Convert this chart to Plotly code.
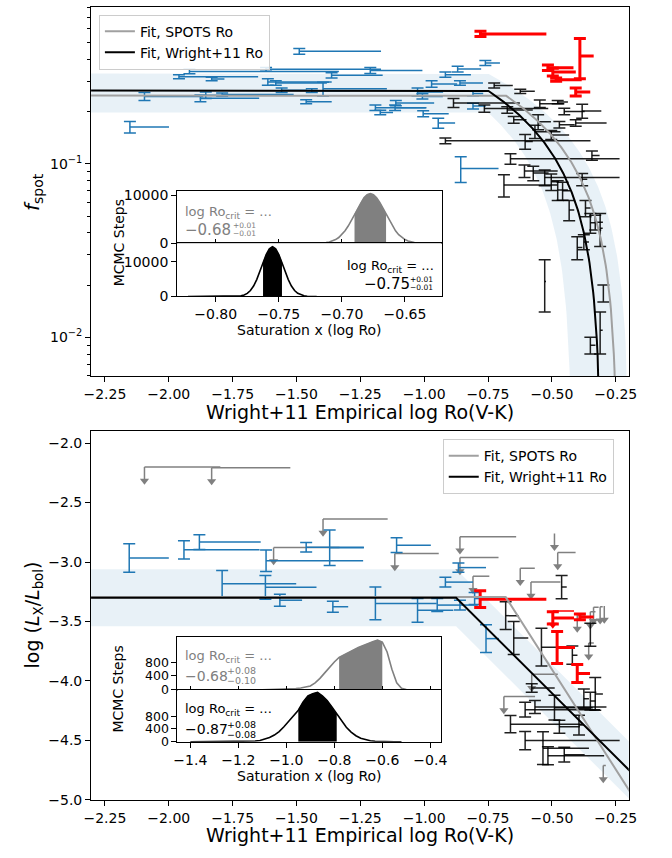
import numpy as np
import plotly.graph_objects as go

FONT = "DejaVu Sans"
W, H = 672, 858

# ====================== TOP PANEL DATA (f_spot vs Wright+11 log Ro) ======================
top_blue_x = [-2.152, -2.095, -1.960, -1.919, -1.832, -1.876, -1.855, -1.791, -1.619, -1.612,
              -1.581, -1.558, -1.489, -1.462, -1.440, -1.396, -1.3625, -1.211, -0.917, -0.869,
              -0.7605, -0.971, -0.860, -1.026, -1.007, -0.809, -1.111, -1.191, -1.172, -1.114,
              -1.004, -0.945, -0.809, -0.857]
top_blue_y = [0.163, 0.245, 0.318, 0.341, 0.309, 0.239, 0.249, 0.251, 0.351, 0.297,
              0.293, 0.266, 0.446, 0.228, 0.2645, 0.271, 0.324, 0.346, 0.327, 0.352,
              0.382, 0.289, 0.293, 0.260, 0.245, 0.255, 0.2245, 0.211, 0.1978, 0.211,
              0.1945, 0.172, 0.2155, 0.094]
top_blue_yerr = [0.0125, 0.0128, 0.0083, 0.0099, 0.007, 0.0105, 0.011, 0.0055, 0.0092, 0.0128,
                 0.009, 0.0082, 0.0175, 0.006, 0.0067, 0.025, 0.011, 0.0136, 0.0114, 0.0138,
                 0.0125, 0.0125, 0.009, 0.014, 0.0085, 0.008, 0.0078, 0.0075, 0.006, 0.0075,
                 0.0077, 0.0113, 0.008, 0.016]
top_blue_xerr = [0.153, 0.23, 0.31, 0.585, 0.05, 0.23, 0.30, 0.28, 0.45, 0.25,
                 0.20, 0.10, 0.32, 0.10, 0.15, 0.25, 0.20, 0.204, 0.10, 0.092,
                 0.057, 0.10, 0.09, 0.10, 0.08, 0.04, 0.15, 0.20, 0.05, 0.12,
                 0.10, 0.066, 0.05, 0.148]

top_red_x = [-0.7797, -0.3905, -0.5156, -0.4965, -0.4834, -0.4069]
top_red_y = [0.562, 0.419, 0.359, 0.3387, 0.306, 0.260]
top_red_yerr = [0.0195, 0.109, 0.0132, 0.0178, 0.0067, 0.014]
top_red_xerr = [0.258, 0.054, 0.10, 0.09, 0.10, 0.057]

top_black_x = [-0.7261, -0.6239, -0.8853, -0.7644, -0.6748, -0.6495, -0.5474, -0.4773, -0.3816, -0.4517,
               -0.5539, -0.5665, -0.4069, -0.4708, -0.5026, -0.917, -0.6048, -0.6622, -0.3434, -0.6074,
               -0.573, -0.5282, -0.5026, -0.6878, -0.3816, -0.4773, -0.4582, -0.4325, -0.3686, -0.4008,
               -0.3495, -0.3304, -0.3112, -0.5282, -0.2986, -0.3112, -0.3495, -0.375]
top_black_y = [0.2836, 0.262, 0.2248, 0.2086, 0.2048, 0.1797, 0.2223, 0.2274, 0.2019, 0.2005,
               0.1747, 0.1534, 0.1721, 0.1683, 0.1469, 0.1358, 0.1345, 0.107, 0.1118, 0.0911,
               0.0885, 0.0835, 0.0788, 0.0755, 0.0815, 0.0708, 0.070, 0.0543, 0.0556, 0.033,
               0.0458, 0.0461, 0.0426, 0.021, 0.018, 0.011, 0.009, 0.0355]
top_black_yerr = [0.0093, 0.0076, 0.0137, 0.0101, 0.009, 0.0079, 0.0112, 0.0049, 0.0185, 0.0087,
                  0.0171, 0.0134, 0.0075, 0.0074, 0.0087, 0.0053, 0.0131, 0.0074, 0.0068, 0.0076,
                  0.0085, 0.0086, 0.0086, 0.0111, 0.0066, 0.0092, 0.0083, 0.0073, 0.006, 0.005,
                  0.006, 0.0045, 0.0092, 0.007, 0.002, 0.003, 0.001, 0.0035]
top_black_xerr = [0.073, 0.057, 0.26, 0.25, 0.10, 0.05, 0.096, 0.04, 0.075, 0.08,
                  0.05, 0.10, 0.121, 0.06, 0.07, 0.568, 0.03, 0.427, 0.03, 0.13,
                  0.06, 0.293, 0.03, 0.209, 0.02, 0.04, 0.03, 0.02, 0.02, 0.02,
                  0.03, 0.03, 0.01, 0.005, 0.0, 0.01, 0.02, 0.02]

# fit parameters (top): f = f_sat for x < x_crit, falls linearly in log Ro to zero at x_zero
top_fit_black = dict(f_sat=0.265, x_crit=-0.751, x_zero=-0.308)
top_fit_gray = dict(f_sat=0.248, x_crit=-0.681, x_zero=-0.2435)
top_band_half = 0.067

# ====================== BOTTOM PANEL DATA (log Lx/Lbol) ======================
bot_blue_x = [-2.1547, -1.9404, -1.880, -1.791, -1.619, -1.6216, -1.565, -1.462, -1.370, -1.3575,
              -1.108, -0.866, -0.917, -1.191, -1.026, -0.949, -0.758, -0.860, -0.8026]
bot_blue_y = [-2.967, -2.898, -2.832, -3.182, -2.989, -3.213, -3.321, -2.876, -2.881, -3.376,
              -2.859, -3.047, -3.169, -3.348, -3.406, -3.362, -3.644, -3.362, -3.307]
bot_blue_yerr = [0.120, 0.076, 0.062, 0.110, 0.090, 0.100, 0.050, 0.039, 0.149, 0.047,
                 0.062, 0.039, 0.041, 0.138, 0.100, 0.055, 0.117, 0.041, 0.050]
bot_blue_xerr = [0.155, 0.296, 0.240, 0.290, 0.380, 0.200, 0.087, 0.226, 0.134, 0.060,
                 0.134, 0.108, 0.108, 0.240, 0.140, 0.090, 0.051, 0.070, 0.070]

bot_red_x = [-0.7808, -0.4965, -0.4796, -0.4008, -0.3905]
bot_red_y = [-3.3126, -3.470, -3.719, -3.937, -3.462]
bot_red_yerr = [0.070, 0.052, 0.135, 0.076, 0.024]
bot_red_xerr = [0.259, 0.083, 0.070, 0.050, 0.054]
bot_red_lim_x = [-0.4965]
bot_red_lim_y = [-3.412]
bot_red_lim_xerr = [0.083]

bot_black_x = [-0.462, -0.681, -0.6495, -0.541, -0.3495, -0.42, -0.579, -0.6048, -0.5665, -0.49,
               -0.375, -0.3495, -0.3304, -0.6622, -0.4708, -0.394, -0.6048, -0.535, -0.5156, -0.4517]
bot_black_y = [-3.211, -3.451, -3.6385, -3.716, -3.611, -3.783, -4.059, -4.241, -4.219, -4.225,
               -4.150, -4.169, -4.109, -4.363, -4.385, -4.371, -4.501, -4.565, -4.629, -4.620]
bot_black_yerr = [0.097, 0.117, 0.138, 0.159, 0.097, 0.076, 0.035, 0.062, 0.055, 0.104,
                  0.083, 0.075, 0.138, 0.073, 0.055, 0.083, 0.076, 0.138, 0.076, 0.062]
bot_black_xerr = [0.02, 0.051, 0.057, 0.12, 0.0, 0.02, 0.09, 0.293, 0.28, 0.15,
                  0.02, 0.02, 0.03, 0.28, 0.08, 0.02, 0.37, 0.18, 0.22, 0.08]

bot_lim_x = [-2.095, -1.832, -1.396, -1.5895, -1.115, -0.860, -0.860, -0.809, -0.624, -0.582,
             -0.490, -0.4773, -0.4008, -0.3495, -0.3112, -0.356, -0.579, -0.688, -0.299, -0.337, -0.295]
bot_lim_y = [-2.2015, -2.207, -2.6385, -2.879, -2.9287, -2.7877, -2.9619, -3.1194, -3.053, -3.169,
             -2.7595, -2.9204, -3.4453, -3.418, -3.3765, -3.680, -3.943, -4.131, -4.711, -3.380, -3.370]
bot_lim_xerr = [0.297, 0.308, 0.253, 0.258, 0.172, 0.220, 0.151, 0.064, 0.057, 0.115,
                0.0, 0.070, 0.032, 0.020, 0.010, 0.020, 0.102, 0.122, 0.010, 0.020, 0.0]

bot_fit_black = dict(level=-3.30, x_crit=-0.875, slope=-2.14)
bot_fit_gray = dict(level=-3.295, x_crit=-0.681, slope=-3.36)
bot_band_half = 0.24

# ====================== MCMC HISTOGRAMS ======================
# top inset, SPOTS Ro (gray)
hA_x = [-0.7225, -0.72, -0.7175, -0.715, -0.7125, -0.71, -0.7075, -0.705, -0.7025, -0.70, -0.6975,
        -0.695, -0.6925, -0.69, -0.6875, -0.685, -0.6825, -0.68, -0.6775, -0.675, -0.6725, -0.67,
        -0.6675, -0.665, -0.6625, -0.66, -0.6575, -0.655, -0.6525, -0.65, -0.6475, -0.645, -0.6425,
        -0.64, -0.6375, -0.635]
hA_n = [0, 20, 40, 79, 148, 266, 457, 753, 1188, 1793, 2594, 3592, 4761, 6043, 7349, 8555, 9535,
        10176, 10400, 10176, 9535, 8555, 7349, 6043, 4761, 3592, 2594, 1793, 1188, 753, 457, 266, 148,
        79, 40, 0]
hA_ci = (-0.69, -0.665)
# top inset, Wright+11 Ro (black)
hB_x = [-0.822, -0.79, -0.7875, -0.785, -0.7825, -0.78, -0.7775, -0.775, -0.7725, -0.77, -0.7675,
        -0.765, -0.7625, -0.76, -0.7575, -0.755, -0.7525, -0.75, -0.7475, -0.745, -0.7425, -0.74,
        -0.7375, -0.735, -0.7325, -0.73, -0.7275, -0.725, -0.7225, -0.72]
hB_n = [0, 0, 10, 28, 76, 189, 431, 898, 1718, 3013, 4851, 7159, 9691, 12028, 13695, 14300, 13695,
        12028, 9691, 7159, 4851, 3013, 1718, 898, 431, 189, 76, 28, 10, 0]
hB_ci = (-0.7625, -0.7475)
# bottom inset, SPOTS Ro (gray)
hC_x = [-1.10, -1.08, -1.06, -1.04, -1.02, -1.00, -0.98, -0.96, -0.94, -0.92, -0.90, -0.88, -0.86,
        -0.84, -0.82, -0.80, -0.78, -0.76, -0.74, -0.72, -0.70, -0.68, -0.66, -0.64, -0.62, -0.60,
        -0.58, -0.56, -0.54, -0.52, -0.50, -0.48]
hC_n = [0, 2, 4, 7, 10, 15, 22, 32, 50, 75, 110, 200, 330, 490, 660, 810, 940, 1020, 1090, 1160,
        1230, 1290, 1350, 1400, 1445, 1390, 1100, 600, 200, 40, 3, 0]
hC_ci = (-0.78, -0.60)
# bottom inset, Wright+11 Ro (black)
hD_x = [-1.40, -1.25, -1.21, -1.19, -1.17, -1.15, -1.13, -1.11, -1.09, -1.07, -1.05, -1.03, -1.01,
        -0.99, -0.97, -0.95, -0.93, -0.91, -0.89, -0.87, -0.85, -0.83, -0.81, -0.79, -0.77, -0.75,
        -0.73, -0.71, -0.69, -0.67, -0.65, -0.63, -0.61, -0.59, -0.57, -0.55, -0.52]
hD_n = [0, 0, 1, 2, 5, 10, 20, 40, 75, 130, 210, 320, 470, 650, 800, 990, 1250, 1440, 1510, 1550,
        1440, 1298, 1092, 866, 647, 456, 302, 189, 111, 62, 32, 16, 7, 3, 1, 0, 0]
hD_ci = (-0.95, -0.79)

# ====================== STYLE ======================
BLUE = "#1f77b4"
RED = "#ff0000"
BLACK = "rgba(0,0,0,0.88)"
LIMGRAY = "#808080"
FITGRAY = "#a0a0a0"
BAND = "rgba(31,119,180,0.10)"
X_RANGE = [-2.304, -0.199]

fig = go.Figure()


def err_trace(x, y, yerr, xerr, color, thick, xa, ya, cap=6):
    return go.Scatter(
        x=x, y=y, mode="markers", marker=dict(size=2, color=color, opacity=0),
        error_y=dict(type="data", array=yerr, symmetric=True, color=color, thickness=thick, width=cap),
        error_x=dict(type="data", array=xerr, arrayminus=[0] * len(x), symmetric=False,
                     color=color, thickness=thick, width=0),
        xaxis=xa, yaxis=ya, showlegend=False, hoverinfo="skip")


def limit_traces(x, y, xerr, color, xa, ya, L=0.115):
    x = np.asarray(x); y = np.asarray(y)
    t1 = go.Scatter(
        x=x, y=y, mode="markers", marker=dict(size=2, color=color, opacity=0),
        error_y=dict(type="data", array=[0] * len(x), arrayminus=[L] * len(x), symmetric=False,
                     color=color, thickness=1.5, width=0),
        error_x=dict(type="data", array=xerr, arrayminus=[0] * len(x), symmetric=False,
                     color=color, thickness=1.5, width=0),
        xaxis=xa, yaxis=ya, showlegend=False, hoverinfo="skip")
    t2 = go.Scatter(x=x, y=y - L, mode="markers",
                    marker=dict(symbol="triangle-down", size=8, color=color, line=dict(width=0)),
                    xaxis=xa, yaxis=ya, showlegend=False, hoverinfo="skip")
    return [t1, t2]


# ---------------- TOP PANEL ----------------
xs = np.linspace(X_RANGE[0] - 0.1, X_RANGE[1] + 0.1, 800)


def top_model(p, x):
    return np.where(x < p["x_crit"], p["f_sat"],
                    p["f_sat"] * (1 - (x - p["x_crit"]) / (p["x_zero"] - p["x_crit"])))


fb = top_model(top_fit_black, xs)
up = np.clip(fb + top_band_half, 1e-4, None)
lo = np.clip(fb - top_band_half, 1e-4, None)
fig.add_trace(go.Scatter(x=np.concatenate([xs, xs[::-1]]), y=np.concatenate([up, lo[::-1]]),
                         fill="toself", fillcolor=BAND, line=dict(width=0), mode="lines",
                         xaxis="x", yaxis="y", showlegend=False, hoverinfo="skip"))

fig.add_trace(err_trace(top_blue_x, top_blue_y, top_blue_yerr, top_blue_xerr, BLUE, 1.5, "x", "y"))
fig.add_trace(err_trace(top_black_x, top_black_y, top_black_yerr, top_black_xerr, BLACK, 1.5, "x", "y"))
fig.add_trace(err_trace(top_red_x, top_red_y, top_red_yerr, top_red_xerr, RED, 3, "x", "y"))

for p, col, name in [(top_fit_gray, FITGRAY, "Fit, SPOTS Ro"), (top_fit_black, "black", "Fit, Wright+11 Ro")]:
    f = top_model(p, xs)
    m = f > 1e-3
    fig.add_trace(go.Scatter(x=xs[m], y=f[m], mode="lines", line=dict(color=col, width=2),
                             name=name, xaxis="x", yaxis="y", legend="legend", hoverinfo="skip"))

# ---------------- BOTTOM PANEL ----------------
xb = np.array([X_RANGE[0] - 0.1, bot_fit_black["x_crit"], X_RANGE[1] + 0.1])


def bot_model(p, x):
    return np.where(x < p["x_crit"], p["level"], p["level"] + p["slope"] * (x - p["x_crit"]))


lb = bot_model(bot_fit_black, xb)
fig.add_trace(go.Scatter(x=np.concatenate([xb, xb[::-1]]),
                         y=np.concatenate([lb + bot_band_half, (lb - bot_band_half)[::-1]]),
                         fill="toself", fillcolor=BAND, line=dict(width=0), mode="lines",
                         xaxis="x2", yaxis="y2", showlegend=False, hoverinfo="skip"))

for t in limit_traces(bot_lim_x, bot_lim_y, bot_lim_xerr, LIMGRAY, "x2", "y2"):
    fig.add_trace(t)
fig.add_trace(err_trace(bot_blue_x, bot_blue_y, bot_blue_yerr, bot_blue_xerr, BLUE, 1.5, "x2", "y2"))
fig.add_trace(err_trace(bot_black_x, bot_black_y, bot_black_yerr, bot_black_xerr, BLACK, 1.5, "x2", "y2"))
for t in limit_traces(bot_red_lim_x, bot_red_lim_y, bot_red_lim_xerr, RED, "x2", "y2"):
    fig.add_trace(t)
fig.add_trace(err_trace(bot_red_x, bot_red_y, bot_red_yerr, bot_red_xerr, RED, 3, "x2", "y2"))

for p, col, name in [(bot_fit_gray, FITGRAY, "Fit, SPOTS Ro"), (bot_fit_black, "black", "Fit, Wright+11 Ro")]:
    xx = np.array([X_RANGE[0] - 0.1, p["x_crit"], X_RANGE[1] + 0.1])
    fig.add_trace(go.Scatter(x=xx, y=bot_model(p, xx), mode="lines", line=dict(color=col, width=2),
                             name=name, xaxis="x2", yaxis="y2", legend="legend2", hoverinfo="skip"))


# ---------------- INSET HISTOGRAMS ----------------
def hist_traces(hx, hn, ci, color, xa, ya):
    hx = np.asarray(hx); hn = np.asarray(hn)
    m = (hx >= ci[0] - 1e-9) & (hx <= ci[1] + 1e-9)
    return [
        go.Scatter(x=hx[m], y=hn[m], mode="lines", fill="tozeroy", fillcolor=color,
                   line=dict(color=color, width=0.5), xaxis=xa, yaxis=ya, showlegend=False, hoverinfo="skip"),
        go.Scatter(x=hx, y=hn, mode="lines", line=dict(color=color, width=1.6),
                   xaxis=xa, yaxis=ya, showlegend=False, hoverinfo="skip"),
    ]


for t in hist_traces(hA_x, hA_n, hA_ci, "#808080", "x3", "y3"): fig.add_trace(t)
for t in hist_traces(hB_x, hB_n, hB_ci, "#000000", "x4", "y4"): fig.add_trace(t)
for t in hist_traces(hC_x, hC_n, hC_ci, "#808080", "x5", "y5"): fig.add_trace(t)
for t in hist_traces(hD_x, hD_n, hD_ci, "#000000", "x6", "y6"): fig.add_trace(t)


# ---------------- LAYOUT ----------------
def PX(v): return v / W
def PY(v): return 1 - v / H


def ax(**kw):
    d = dict(showline=True, linecolor="black", linewidth=1, mirror=True, showgrid=False, zeroline=False,
             ticks="outside", ticklen=5, tickwidth=1, tickcolor="black",
             tickfont=dict(family=FONT, size=14, color="black"))
    d.update(kw)
    return d


def fmt(vals, nd):
    return [f"{v:.{nd}f}".replace("-", "\u2212") for v in vals]


main_xt = [-2.25, -2.0, -1.75, -1.5, -1.25, -1.0, -0.75, -0.5, -0.25]
bot_yt = [-5.0, -4.5, -4.0, -3.5, -3.0, -2.5, -2.0]
top_yt = [0.01, 0.1]
minor_log = [0.006, 0.007, 0.008, 0.009, 0.02, 0.03, 0.04, 0.05, 0.06, 0.07, 0.08, 0.09,
             0.2, 0.3, 0.4, 0.5, 0.6, 0.7, 0.8]
inA_xt = [-0.80, -0.75, -0.70, -0.65]
inC_xt = [-1.4, -1.2, -1.0, -0.8, -0.6, -0.4]

main_dom_x = [PX(86), PX(636)]
inA_dom_x = [PX(174), PX(444.5)]
inC_dom_x = [PX(174.3), PX(444)]
small_tick = dict(family=FONT, size=12.5, color="black")

layout = dict(
    width=W, height=H, margin=dict(l=0, r=0, t=0, b=0),
    paper_bgcolor="white", plot_bgcolor="white", hovermode=False,
    font=dict(family=FONT, color="black"),
    xaxis=ax(domain=main_dom_x, anchor="y", range=X_RANGE, tickvals=main_xt, ticktext=fmt(main_xt, 2)),
    yaxis=ax(domain=[PY(378), PY(4)], anchor="x", type="log", range=[-2.224, -0.095],
             tickvals=top_yt, ticktext=["10<sup>\u22122</sup>", "10<sup>\u22121</sup>"],
             minor=dict(tickvals=minor_log, ticks="outside", ticklen=3, tickcolor="black", showgrid=False)),
    xaxis2=ax(domain=main_dom_x, anchor="y2", range=X_RANGE, tickvals=main_xt, ticktext=fmt(main_xt, 2)),
    yaxis2=ax(domain=[PY(807.3), PY(433.7)], anchor="x2", range=[-5.0, -1.90],
              tickvals=bot_yt, ticktext=fmt(bot_yt, 1)),
    xaxis3=ax(domain=inA_dom_x, anchor="y3", range=[-0.8306, -0.621], tickvals=inA_xt,
              showticklabels=False, ticks="inside", ticklen=4),
    yaxis3=ax(domain=[PY(243.3), PY(190)], anchor="x3", range=[0, 11040], tickvals=[0, 10000],
              ticktext=["0", "10000"]),
    xaxis4=ax(domain=inA_dom_x, anchor="y4", range=[-0.8306, -0.621], tickvals=inA_xt,
              ticktext=fmt(inA_xt, 2)),
    yaxis4=ax(domain=[PY(297.3), PY(243.3)], anchor="x4", range=[0, 15300], tickvals=[0, 10000],
              ticktext=["0", "10000"]),
    xaxis5=ax(domain=inC_dom_x, anchor="y5", range=[-1.454, -0.355], tickvals=inC_xt,
              showticklabels=False, ticks="inside", ticklen=4),
    yaxis5=ax(domain=[PY(695.6), PY(642.7)], anchor="x5", range=[0, 1525], tickvals=[0, 400, 800],
              ticktext=["0", "400", "800"], tickfont=small_tick),
    xaxis6=ax(domain=inC_dom_x, anchor="y6", range=[-1.454, -0.355], tickvals=inC_xt,
              ticktext=fmt(inC_xt, 1)),
    yaxis6=ax(domain=[PY(748.3), PY(695.6)], anchor="x6", range=[0, 1637], tickvals=[0, 400, 800],
              ticktext=["0", "400", "800"], tickfont=small_tick),
    legend=dict(x=PX(94), y=PY(11.7), xanchor="left", yanchor="top", bgcolor="rgba(255,255,255,0.85)",
                bordercolor="#cccccc", borderwidth=1, font=dict(family=FONT, size=14, color="black"),
                itemwidth=30, tracegroupgap=0),
    legend2=dict(x=PX(445.7), y=PY(441.7), xanchor="left", yanchor="top", bgcolor="rgba(255,255,255,0.85)",
                 bordercolor="#cccccc", borderwidth=1, font=dict(family=FONT, size=14, color="black"),
                 itemwidth=30, tracegroupgap=0),
)


def ann(text, x, y, size, color="black", xanchor="left", angle=0):
    return dict(text=text, x=PX(x), y=PY(y), xref="paper", yref="paper", showarrow=False,
                xanchor=xanchor, yanchor="middle", textangle=angle, borderpad=0,
                font=dict(family=FONT, size=size, color=color))


GR = "#808080"
annotations = [
    # axis titles
    ann("Wright+11 Empirical log Ro(V-K)", 361, 414, 19, xanchor="center"),
    ann("Wright+11 Empirical log Ro(V-K)", 361, 843, 19, xanchor="center"),
    ann("<i>f</i><sub>spot</sub>", 26, 191, 20, xanchor="center", angle=-90),
    ann("log (<i>L</i><sub>X</sub>/<i>L</i><sub>bol</sub>)", 27, 620, 19, xanchor="center", angle=-90),
    ann("MCMC Steps", 114, 243, 14, xanchor="center", angle=-90),
    ann("MCMC Steps", 114, 695, 14, xanchor="center", angle=-90),
    ann("Saturation x (log Ro)", 309, 331, 14, xanchor="center"),
    ann("Saturation x (log Ro)", 309, 783, 14, xanchor="center"),
    # top inset texts
    ann("log Ro<sub>crit</sub> = ...", 181, 212, 13, GR),
    ann("\u22120.68", 181, 230, 15, GR),
    ann("+0.01", 230, 225, 7.5, GR),
    ann("\u22120.01", 230, 233.5, 7.5, GR),
    ann("log Ro<sub>crit</sub> = ...", 438, 267, 13, "black", xanchor="right"),
    ann("\u22120.75", 413, 284.5, 15, "black", xanchor="right"),
    ann("+0.01", 437, 280, 7.5, "black", xanchor="right"),
    ann("\u22120.01", 437, 288.5, 7.5, "black", xanchor="right"),
    # bottom inset texts
    ann("log Ro<sub>crit</sub> = ...", 181, 662, 13, GR),
    ann("\u22120.68", 181, 681.5, 14, GR),
    ann("+0.08", 224, 676.5, 9.5, GR),
    ann("\u22120.10", 224, 686.5, 9.5, GR),
    ann("log Ro<sub>crit</sub> = ...", 181, 716, 13, "black"),
    ann("\u22120.87", 181, 735.5, 14, "black"),
    ann("+0.08", 224, 730.5, 9.5, "black"),
    ann("\u22120.08", 224, 740.5, 9.5, "black"),
]
layout["annotations"] = annotations

fig.update_layout(**layout)
fig.write_html("out.html", config={"displayModeBar": False})
